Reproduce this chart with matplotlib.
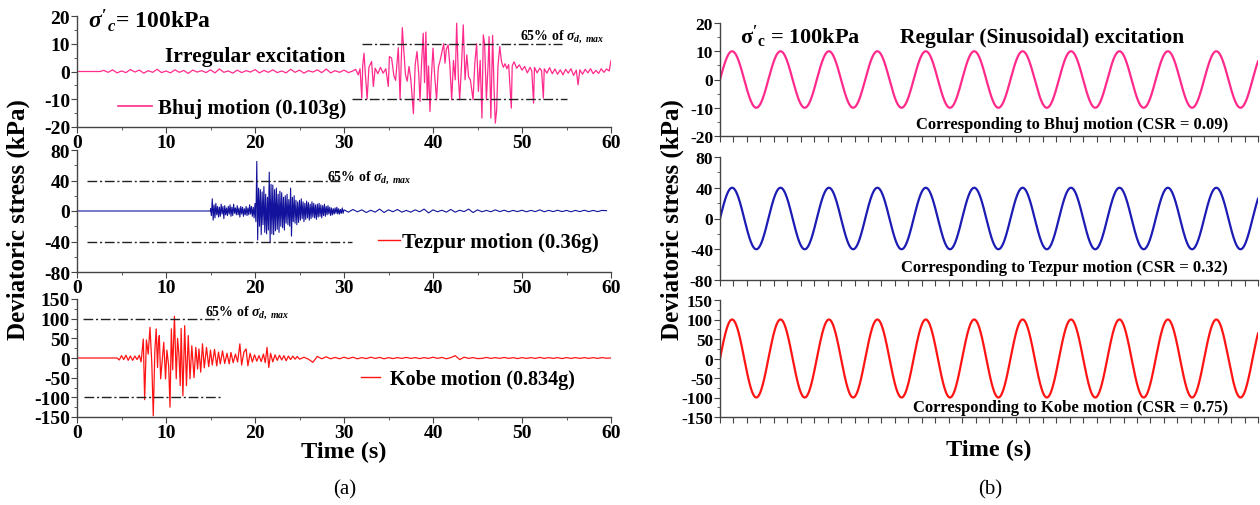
import numpy as np
import matplotlib
matplotlib.use("Agg")
import matplotlib.pyplot as plt
from matplotlib.lines import Line2D
from matplotlib.ticker import MultipleLocator

plt.rcParams.update({
    'font.family': 'Liberation Serif',
    'font.weight': 'bold',
    'mathtext.fontset': 'custom',
    'mathtext.rm': 'Liberation Serif:bold',
    'mathtext.it': 'Liberation Serif:italic:bold',
    'mathtext.bf': 'Liberation Serif:bold',
    'axes.linewidth': 1.0,
    'axes.unicode_minus': False,
})

# ─── 1. RECORDED MOTIONS (deviatoric stress, kPa) ───────────────────────────
# Bhuj: flat start, low-level noise sampled every 0.5 s, then strong phase
bhuj_flat_t = [0.0, 2.6]
bhuj_noise_t0, bhuj_noise_dt = 3.0, 0.5
bhuj_noise_v = [0.4, -0.3, 0.6, -0.5, 0.2, -0.4, 0.7, -0.2, 0.5, -0.6,
                0.3, -0.3, 0.8, -0.4, 0.2, -0.5, 0.6, -0.3, 0.4, -0.7,
                0.5, -0.2, 0.3, -0.4, 0.6, -0.5, 0.9, -0.3, 0.2, -0.6,
                0.5, -0.4, 0.3, -0.2, 0.7, -0.5, 0.4, -0.3, 0.6, -0.4,
                0.2, -0.5, 0.8, -0.3, 0.5, -0.6, 0.3, -0.2, 0.6, -0.4,
                0.9, -0.5, 0.3, -0.3, 0.5, -0.4, 0.2]
bhuj_t = [31.3, 31.6, 31.8, 32.0, 32.1, 32.25, 32.4, 32.6, 32.8, 33.1,
          33.3, 33.5, 33.8, 34.1, 34.4, 34.7, 34.98, 35.1, 35.35, 35.6,
          35.8, 36.1, 36.3, 36.55, 36.67, 36.9, 37.1, 37.3, 37.5, 37.8,
          38.0, 38.2, 38.4, 38.54, 38.7, 38.9, 39.05, 39.2, 39.36, 39.5,
          39.66, 39.8, 40.0, 40.2, 40.4, 40.6, 40.8, 40.97, 41.2, 41.35,
          41.5, 41.7, 41.9, 42.1, 42.3, 42.5, 42.66, 42.85, 43.0, 43.2,
          43.4, 43.6, 43.8, 44.0, 44.2, 44.5, 44.7, 44.9, 45.1, 45.3,
          45.5, 45.65, 45.8, 46.0, 46.2, 46.3, 46.5, 46.7, 46.85, 47.0,
          47.15, 47.3, 47.5, 47.7, 47.9, 48.1, 48.3, 48.5, 48.8, 48.9,
          49.1, 49.4, 49.7, 50.0, 50.3, 50.6, 50.9, 51.1, 51.3, 51.4,
          51.7, 52.0, 52.2, 52.4, 52.5, 52.8, 53.1, 53.4, 53.7, 54.0,
          54.3, 54.6, 54.9, 55.2, 55.5, 55.8, 56.1, 56.3, 56.5, 56.8,
          57.1, 57.4, 57.7, 58.0, 58.3, 58.6, 58.9, 59.2, 59.5, 59.8,
          60.0]
bhuj_v = [0.8, -1.2, 1.0, -9.6, 2.0, 6.6, -1.0, -9.8, 1.5, 3.6,
          -5.4, 1.2, -0.8, 1.5, -0.6, 1.0, -5.4, 5.4, 4.8, -1.5,
          -3.2, 8.6, -10.0, 15.8, 10.0, -1.0, -3.5, 1.8, -2.5, -15.2,
          2.5, 7.2, -1.0, -10.8, 2.0, 13.8, -4.0, 14.2, -10.2, 2.0,
          -14.4, -3.0, 8.4, -2.0, -10.2, 1.5, 4.0, 6.6, 10.0, 3.0,
          8.0, 9.6, 2.0, -10.2, 4.0, -3.0, 17.4, -2.0, -10.2, 2.0,
          16.8, -3.0, 6.0, -2.0, -3.0, -10.2, 3.0, 10.0, -7.2, 4.0,
          -16.8, 13.2, 10.0, -10.2, 3.0, 12.6, -16.8, 13.0, -5.0, -18.6,
          -14.0, 2.0, 9.0, 3.5, 1.5, 2.8, 1.0, 2.5, -13.2, 2.0,
          3.5, 1.2, 2.4, 0.5, 1.8, -0.5, 1.5, 0.2, -11.4, 1.5,
          -0.5, 1.2, 0.3, -9.6, 1.0, -0.6, 1.4, -0.8, 0.9, -1.0,
          0.6, -1.2, 0.8, -0.6, 1.0, -1.4, 0.5, -4.8, 0.6, -1.0,
          0.8, -0.5, 1.0, -0.8, 0.4, -0.7, 1.0, -0.3, 0.9, 0.2,
          4.0]

# Tezpur: silent until 15 s, strong phase sampled every 0.1 s, coda every 0.5 s
tez_flat_t = [0.0, 15.0]
tez_strong_t0, tez_strong_dt = 15.0, 0.1
tez_strong_v = [3, -6, 16, -12, 8, -9, 10, -5, 6, -8,
                5, -7, 9, -4, 6, -10, 7, -5, 4, -6,
                6, -4, 8, -7, 5, -6, 9, -3, 4, -5,
                7, -5, 4, -8, 6, -4, 5, -7, 3, -5,
                6, -6, 4, -5, 8, -4, 6, -7, 5, -9,
                10, -14, 65, -38, 30, -20, 28, -31, 25, -18,
                32, -28, 22, -30, 18, -25, 51, -41, 35, -30,
                34, -31, 28, -26, 30, -24, 22, -28, 26, -20,
                24, -22, 18, -25, 20, -16, 22, -18, 15, -20,
                30, -33, 18, -14, 20, -16, 14, -18, 12, -15,
                14, -12, 16, -10, 12, -14, 10, -11, 13, -9,
                11, -12, 9, -10, 12, -8, 10, -9, 8, -11,
                9, -8, 10, -7, 8, -9, 7, -6, 9, -7,
                6, -5, 7, -4, 5, -6, 4, -5, 3, -4,
                4, -3, 5, -4, 3, -4, 2, -3, 4, -3]
tez_coda_t0, tez_coda_dt = 30.0, 0.5
tez_coda_v = [1.5, -1.5, 2, -1, 1.5, -2, 1, -1.5, 2.5, -2,
              1.5, -1, 2, -1.5, 0.8, -1.5, 1.5, -1, 2.5, -2.5,
              1.5, -1, 1, -1.5, 2, -1.5, 1, -0.8, 2.5, -2,
              1.5, -1, 0.8, -1, 1.5, -0.8, 1, -1, 0.8, -0.8,
              1, -1, 0.8, -0.8, 1.5, -1, 0.8, -0.8, 1, -0.8,
              0.8, -1, 0.8, -0.8, 1, -0.8, 0.8, -0.8, 0.8, 0.4]

# Kobe: silent until 4.5 s, strong phase as peak points, coda every 0.5 s
kobe_flat_t = [0.0, 4.5]
kobe_t = [4.75, 5.0, 5.25, 5.5, 5.75, 6.0, 6.25, 6.5, 6.75, 7.0,
          7.2, 7.45, 7.6, 7.8, 8.0, 8.2, 8.4, 8.57, 8.75, 8.9,
          9.05, 9.15, 9.25, 9.4, 9.6, 9.75, 9.95, 10.1, 10.3, 10.45,
          10.6, 10.75, 10.95, 11.15, 11.3, 11.45, 11.6, 11.7, 11.9, 12.1,
          12.3, 12.5, 12.7, 12.9, 13.15, 13.35, 13.55, 13.7, 13.9, 14.1,
          14.3, 14.55, 14.8, 15.0, 15.2, 15.45, 15.7, 15.9, 16.1, 16.35,
          16.6, 16.85, 17.1, 17.3, 17.55, 17.8, 18.05, 18.3, 18.5, 18.75,
          19.0, 19.2, 19.45, 19.7, 19.95, 20.2, 20.45, 20.7, 20.95, 21.15,
          21.35, 21.55, 21.75, 22.0, 22.25, 22.5, 22.75, 23.0, 23.25, 23.5,
          23.75, 24.0, 24.25, 24.5, 24.75, 25.0]
kobe_v = [-5, 6, -4, 7, -6, 5, -6, 5, -4, 7,
          -10, 48, -106, 46, 10, 78, -10, -147, 20, 74,
          -24, 40, 57, -53, 0, 40, -53, 20, -20, -125,
          74, -30, 106, -53, 50, 10, -70, 75, -96, 82,
          -70, 57, -53, 31, -50, 27, -28, 23, -36, 36,
          -25, 27, -22, 20, -18, 22, -20, 15, -15, 18,
          -14, 12, -15, 14, -12, 10, -10, 36, -18, 15,
          23, -20, 12, -10, 8, -8, 6, -9, 10, -12,
          27, -24, 12, -10, 8, -6, 7, -5, 6, -7,
          5, -4, 5, -3, 4, -3]
kobe_coda_t0, kobe_coda_dt = 25.5, 0.5
kobe_coda_v = [2, -3, -11, 4, -2, 3, -2, 1.5, -2, 2,
               -1.5, 2, -2, 1, -1.5, 2, -1, 1.5, -2, 1,
               -1.5, 1, -1, 1.5, -1, 1, -1.5, 1, -1, 2,
               -1, 1.5, -2, 1, 6, -4, 2, -1, 1, -1.5,
               -1, 1.5, -1, 1, -1, 1.5, -1, 1, -1.5, 1,
               -1, 1, -1, 1.5, -1, 1, -1, 1, -1.5, 1,
               -1, 1, -1, 1, -1, 1, -1, 1, -0.5, 0]

# 65% of peak deviatoric stress lines: (level, upper t-range, lower t-range)
bhuj_lvl, bhuj_up, bhuj_lo = 10, (32.0, 54.5), (30.9, 55.0)
tez_lvl, tez_up, tez_lo = 40, (1.1, 29.8), (1.1, 30.9)
kobe_lvl, kobe_up, kobe_lo = 100, (0.7, 16.0), (0.8, 16.3)

# Regular (sinusoidal) loading
sine_amp = [10, 40, 100]
sine_period = 3.6
sine_tmax = 40.0


def sampled(t0, dt, vals):
    return t0 + dt * np.arange(len(vals)), np.asarray(vals, float)


def record(flat_t, parts):
    ts = [np.asarray(flat_t, float)]
    vs = [np.zeros(len(flat_t))]
    for t, v in parts:
        ts.append(np.asarray(t, float))
        vs.append(np.asarray(v, float))
    return np.concatenate(ts), np.concatenate(vs)


bhuj = record(bhuj_flat_t, [sampled(bhuj_noise_t0, bhuj_noise_dt, bhuj_noise_v),
                            (bhuj_t, bhuj_v)])
tez = record(tez_flat_t, [sampled(tez_strong_t0, tez_strong_dt, tez_strong_v),
                          sampled(tez_coda_t0, tez_coda_dt, tez_coda_v)])
kobe = record(kobe_flat_t, [(kobe_t, kobe_v),
                            sampled(kobe_coda_t0, kobe_coda_dt, kobe_coda_v)])

PINK, BLUE, RED = '#FF2A8C', '#12129C', '#FF1414'
SPINE = '#444444'
DASHDOT = (0, (7, 2, 1.5, 2))

# ─── 2. FIGURE ──────────────────────────────────────────────────────────────
W, H = 1260, 506
fig = plt.figure(figsize=(W / 100, H / 100), dpi=100)
fig.patch.set_facecolor('white')


def box(x0, x1, y0, y1):
    return [x0 / W, 1 - y1 / H, (x1 - x0) / W, (y1 - y0) / H]


def style(ax, xlabels=True, size=14):
    for s in ('top', 'right'):
        ax.spines[s].set_visible(False)
    for s in ('left', 'bottom'):
        ax.spines[s].set_color(SPINE)
    ax.tick_params(which='both', direction='out', color=SPINE, labelsize=size, pad=1)
    ax.tick_params(which='major', length=4)
    ax.tick_params(which='minor', length=2.5)
    if not xlabels:
        ax.tick_params(axis='x', labelbottom=False)
    for lab in ax.get_xticklabels() + ax.get_yticklabels():
        lab.set_fontweight('bold')


# ── (a) irregular excitation
left_boxes = [box(77, 611, 17, 128), box(77, 611, 151, 273), box(77, 611, 300, 418)]
ylims = [(-20, 20), (-80, 80), (-150, 150)]
ymaj = [10, 40, 50]
ymin = [5, 20, 25]
recs = [(bhuj, PINK, 0.9), (tez, BLUE, 0.8), (kobe, RED, 0.9)]
levels = [(bhuj_lvl, bhuj_up, bhuj_lo), (tez_lvl, tez_up, tez_lo), (kobe_lvl, kobe_up, kobe_lo)]

axes_a = []
for i in range(3):
    ax = fig.add_axes(left_boxes[i])
    (t, v), c, lw = recs[i]
    ax.plot(t, v, color=c, lw=lw)
    lvl, up, lo = levels[i]
    ax.hlines(lvl, up[0], up[1], colors='#222222', lw=1.0, linestyles=DASHDOT)
    ax.hlines(-lvl, lo[0], lo[1], colors='#222222', lw=1.0, linestyles=DASHDOT)
    ax.set_xlim(0, 60)
    ax.set_ylim(*ylims[i])
    ax.xaxis.set_major_locator(MultipleLocator(10))
    ax.xaxis.set_minor_locator(MultipleLocator(5))
    ax.yaxis.set_major_locator(MultipleLocator(ymaj[i]))
    ax.yaxis.set_minor_locator(MultipleLocator(ymin[i]))
    style(ax)
    axes_a.append(ax)

pct_label = r"65% of $\sigma_{d,\ max}$"
ax = axes_a[0]
ax.text(0.02, 0.97, r"$\sigma'_c$= 100kPa", transform=ax.transAxes,
        fontsize=17, fontweight='bold', va='center', ha='left')
ax.text(0.165, 0.64, "Irregular excitation", transform=ax.transAxes,
        fontsize=15.5, fontweight='bold', va='center', ha='left')
ax.text(0.83, 0.82, pct_label, transform=ax.transAxes, fontsize=10, va='center')
ax.legend(handles=[Line2D([], [], color=PINK, lw=1.2)], labels=["Bhuj motion (0.103g)"],
          loc='center left', bbox_to_anchor=(0.077, 0.17), frameon=False,
          prop={'weight': 'bold', 'size': 15}, handlelength=1.63, handletextpad=0.29,
          borderpad=0, borderaxespad=0)

ax = axes_a[1]
ax.text(0.468, 0.78, pct_label, transform=ax.transAxes, fontsize=10, va='center')
ax.legend(handles=[Line2D([], [], color=RED, lw=1.0)], labels=["Tezpur motion (0.36g)"],
          loc='center left', bbox_to_anchor=(0.564, 0.246), frameon=False,
          prop={'weight': 'bold', 'size': 15}, handlelength=1.06, handletextpad=0.1,
          borderpad=0, borderaxespad=0)

ax = axes_a[2]
ax.text(0.24, 0.89, pct_label, transform=ax.transAxes, fontsize=10, va='center')
ax.legend(handles=[Line2D([], [], color=RED, lw=1.0)], labels=["Kobe motion (0.834g)"],
          loc='center left', bbox_to_anchor=(0.532, 0.32), frameon=False,
          prop={'weight': 'bold', 'size': 14.5}, handlelength=0.95, handletextpad=0.5,
          borderpad=0, borderaxespad=0)
ax.set_xlabel("Time (s)", fontsize=17.5, fontweight='bold', labelpad=0)

fig.text(18 / W, 1 - 220 / H, "Deviatoric stress (kPa)", rotation=90,
         fontsize=18, fontweight='bold', ha='center', va='center')
fig.text(345 / W, 1 - 490 / H, "(a)", fontsize=15, fontweight='normal',
         ha='center', va='center')

# ── (b) regular sinusoidal excitation
right_boxes = [box(720, 1258, 24, 137), box(720, 1258, 158, 281), box(720, 1258, 301, 418)]
sine_colors = [PINK, '#1C1CB4', RED]
csr_notes = ["Corresponding to Bhuj motion (CSR = 0.09)",
             "Corresponding to Tezpur motion (CSR = 0.32)",
             "Corresponding to Kobe motion (CSR = 0.75)"]
note_y = [0.106, 0.106, 0.085]
ts = np.linspace(0, sine_tmax, 3000)

axes_b = []
for i in range(3):
    ax = fig.add_axes(right_boxes[i])
    ax.plot(ts, sine_amp[i] * np.sin(2 * np.pi * ts / sine_period),
            color=sine_colors[i], lw=1.6)
    ax.set_xlim(0, sine_tmax)
    ax.set_ylim(*ylims[i])
    ax.xaxis.set_major_locator(MultipleLocator(1))
    ax.yaxis.set_major_locator(MultipleLocator(ymaj[i]))
    ax.yaxis.set_minor_locator(MultipleLocator(ymin[i]))
    style(ax, xlabels=False, size=12.5)
    ax.text(0.944, note_y[i], csr_notes[i], transform=ax.transAxes,
            fontsize=12, fontweight='bold', ha='right', va='center')
    axes_b.append(ax)

ax = axes_b[0]
ax.text(0.037, 0.885, r"$\mathbf{\sigma}'_{\mathbf{c}}$ = 100kPa", transform=ax.transAxes,
        fontsize=16, fontweight='bold', va='center', ha='left')
ax.text(0.335, 0.876, "Regular (Sinusoidal) excitation", transform=ax.transAxes,
        fontsize=15.5, fontweight='bold', va='center', ha='left')
axes_b[2].set_xlabel("Time (s)", fontsize=17.5, fontweight='bold', labelpad=12)

fig.text(672 / W, 1 - 220 / H, "Deviatoric stress (kPa)", rotation=90,
         fontsize=18, fontweight='bold', ha='center', va='center')
fig.text(990 / W, 1 - 490 / H, "(b)", fontsize=15, fontweight='normal',
         ha='center', va='center')

plt.savefig('out.png', dpi=100, facecolor='white')
